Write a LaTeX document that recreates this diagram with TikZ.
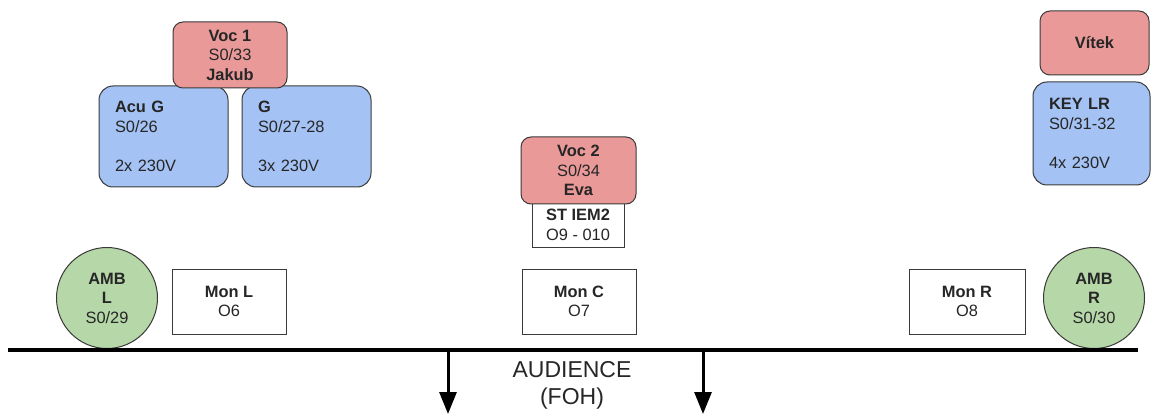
\documentclass[tikz,border=0pt]{standalone}
\usepackage{fontspec}
\setmainfont{Liberation Sans}
\usetikzlibrary{arrows.meta}
\definecolor{vocred}{HTML}{EA9999}
\definecolor{instblue}{HTML}{A4C2F4}
\definecolor{ambgreen}{HTML}{B6D7A8}
\definecolor{edge}{HTML}{3A3A3A}
\definecolor{txt}{HTML}{262626}
\tikzset{
 base/.style={draw=edge, line width=1pt, inner sep=0pt, font=\fontsize{16.4}{19.5}\selectfont, text=txt},
 vocbox/.style={base, fill=vocred, rounded corners=10pt, align=center},
 instbox/.style={base, fill=instblue, rounded corners=14pt, align=left},
 monbox/.style={base, fill=white, align=center},
 ambcirc/.style={base, fill=ambgreen, circle, align=center, minimum size=101pt},
 stageline/.style={line width=4pt},
 exitarrow/.style={line width=3pt, -{Triangle[length=22pt,width=17pt]}},
}
\begin{document}
\begin{tikzpicture}[x=1pt,y=-1pt]
\useasboundingbox (0,0) rectangle (1151,414);
% instruments
\node[instbox, minimum width=129pt, minimum height=101pt, text width=97pt] (acug) at (163.5,136.5)
  {\textbf{Acu G}\\S0/26\\[19.5pt]2x 230V};
\node[instbox, minimum width=129pt, minimum height=101pt, text width=97pt] (g) at (306.5,136.5)
  {\textbf{G}\\S0/27-28\\[19.5pt]3x 230V};
\node[instbox, minimum width=117pt, minimum height=103pt, text width=85pt] (key) at (1091.5,133.5)
  {\textbf{KEY LR}\\S0/31-32\\[19.5pt]4x 230V};
% vocals
\node[vocbox, minimum width=114pt, minimum height=66pt] (voc1) at (230,55)
  {\textbf{Voc 1}\\S0/33\\\textbf{Jakub}};
\node[vocbox, minimum width=109pt, minimum height=64pt] (vitek) at (1094.5,43)
  {\textbf{Vítek}};
\node[monbox, minimum width=92pt, minimum height=44pt] (iem) at (578,225)
  {\textbf{ST IEM2}\\O9 - 010};
\node[vocbox, minimum width=115pt, minimum height=67pt] (voc2) at (578.5,170.5)
  {\textbf{Voc 2}\\S0/34\\\textbf{Eva}};
% monitors
\node[monbox, minimum width=114pt, minimum height=65pt] (monl) at (229,301.5)
  {\textbf{Mon L}\\O6};
\node[monbox, minimum width=114pt, minimum height=65pt] (monc) at (579,301.5)
  {\textbf{Mon C}\\O7};
\node[monbox, minimum width=116pt, minimum height=65pt] (monr) at (967,301.5)
  {\textbf{Mon R}\\O8};
% ambience
\node[ambcirc] (ambl) at (107,298) {\textbf{AMB}\\\textbf{L}\\S0/29};
\node[ambcirc] (ambr) at (1094,298) {\textbf{AMB}\\\textbf{R}\\S0/30};
% stage edge
\coordinate (stl) at (8,350);
\coordinate (str) at (1138,350);
\draw[stageline] (stl) -- (str);
\coordinate (al1) at (448,350);
\coordinate (al2) at (448,414);
\coordinate (ar1) at (703,350);
\coordinate (ar2) at (703,414);
\draw[exitarrow] (al1) -- (al2);
\draw[exitarrow] (ar1) -- (ar2);
\node[font=\fontsize{23}{27}\selectfont, text=txt, align=center, inner sep=0pt] (aud) at (572,385)
  {AUDIENCE\\(FOH)};
\end{tikzpicture}
\end{document}
